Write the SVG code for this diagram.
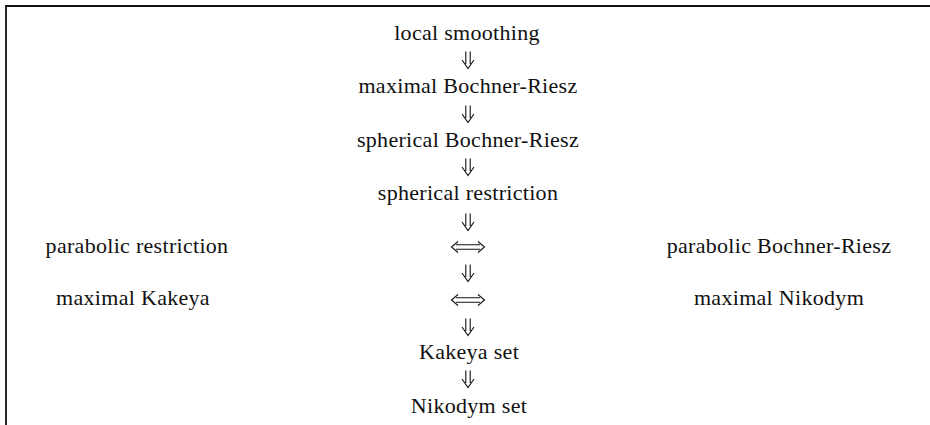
<svg xmlns="http://www.w3.org/2000/svg" width="930" height="425" viewBox="0 0 930 425">
<style>
  .t { font-family: "Liberation Serif", "Times New Roman", serif; font-size: 22px; fill: #111; text-anchor: middle; letter-spacing: 0.3px; }
  .frame { fill: none; stroke: #111; stroke-width: 1.8; }
  .arr { fill: none; stroke: #111; stroke-width: 1.1; stroke-linejoin: miter; }
</style>
<defs>
  <g id="down">
    <path d="M-2.2,-8.5 V4 M2.2,-8.5 V4 M-6,0 L0,8.5 L6,0"/>
  </g>
  <g id="iff">
    <path d="M-12,-2.2 H12 M-12,2.2 H12 M-10,-5.5 L-16.5,0 L-10,5.5 M10,-5.5 L16.5,0 L10,5.5"/>
  </g>
</defs>
<rect width="930" height="425" fill="#fff"/>
<path class="frame" d="M6,425 V6 H930"/>

<g id="local-smoothing"><text class="t" x="467" y="40">local smoothing</text></g>
<g id="maximal-bochner-riesz"><text class="t" x="468" y="93">maximal Bochner-Riesz</text></g>
<g id="spherical-bochner-riesz"><text class="t" x="468" y="147">spherical Bochner-Riesz</text></g>
<g id="spherical-restriction"><text class="t" x="468" y="200">spherical restriction</text></g>
<g id="parabolic-restriction"><text class="t" x="137" y="253">parabolic restriction</text></g>
<g id="parabolic-bochner-riesz"><text class="t" x="779" y="253">parabolic Bochner-Riesz</text></g>
<g id="maximal-kakeya"><text class="t" x="133" y="305">maximal Kakeya</text></g>
<g id="maximal-nikodym"><text class="t" x="779" y="305">maximal Nikodym</text></g>
<g id="kakeya-set"><text class="t" x="469" y="359">Kakeya set</text></g>
<g id="nikodym-set"><text class="t" x="469" y="413">Nikodym set</text></g>

<g id="connectors" class="arr">
  <use href="#down" x="468" y="60"/>
  <use href="#down" x="468" y="114"/>
  <use href="#down" x="468" y="167"/>
  <use href="#down" x="468" y="222"/>
  <use href="#iff" x="468" y="247"/>
  <use href="#down" x="468" y="273"/>
  <use href="#iff" x="468" y="300"/>
  <use href="#down" x="468" y="327"/>
  <use href="#down" x="468" y="379"/>
</g>
</svg>
